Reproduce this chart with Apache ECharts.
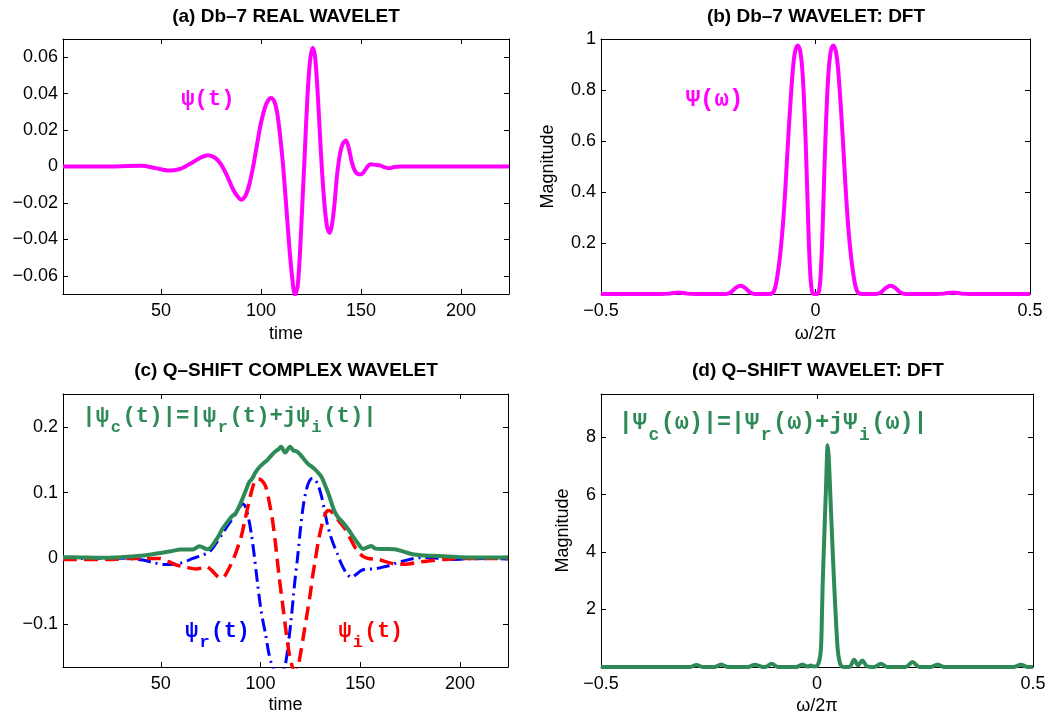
<!DOCTYPE html>
<html><head><meta charset="utf-8">
<script src="https://cdn.jsdelivr.net/npm/echarts@6/dist/echarts.min.js"></script>
<style>html,body{margin:0;padding:0;background:#fff}#c{width:1050px;height:717px}</style>
</head><body><div id="c"></div>
<script>
// ---------------- DATA ----------------
// (a) Db-7 real wavelet
const aTime = [1, 20, 40, 47, 54, 59, 63, 67, 70, 73.5, 77, 80, 83, 86, 88, 90, 92, 94, 96, 98, 100, 102, 103.5, 105, 106.5, 108, 109.5, 111, 112.5, 114, 115.5, 117, 118.3, 119.5, 120.7, 122, 123.2, 124.5, 125.8, 127, 128.2, 129.4, 130.6, 132, 133.2, 134.3, 135.5, 136.8, 138, 139.5, 141, 142.5, 144, 145.5, 147, 148.7, 150.3, 152, 153.5, 155, 157, 159.5, 162, 164, 166.5, 170, 190, 224];
const aPsi = [0, 0, 0.0004, -0.0008, -0.0022, -0.0015, 0.0005, 0.003, 0.005, 0.0062, 0.0048, 0.0012, -0.005, -0.0125, -0.016, -0.0182, -0.0165, -0.0105, -0.0005, 0.012, 0.024, 0.0325, 0.0362, 0.0376, 0.0362, 0.03, 0.0175, 0.001, -0.02, -0.042, -0.06, -0.0705, -0.066, -0.047, -0.02, 0.01, 0.038, 0.058, 0.0652, 0.0605, 0.043, 0.019, -0.004, -0.024, -0.034, -0.0365, -0.032, -0.02, -0.005, 0.007, 0.0128, 0.0143, 0.0095, 0.002, -0.0025, -0.0042, -0.0042, -0.002, 0.0003, 0.0012, 0.0009, 0.0006, -0.0005, -0.0009, -0.0003, 0, 0, 0];

// (b) Db-7 wavelet DFT magnitude
const bFreq = [-0.5, -0.36, -0.34, -0.32, -0.3, -0.28, -0.21, -0.197, -0.186, -0.175, -0.164, -0.153, -0.14, -0.11, -0.1, -0.094, -0.088, -0.082, -0.076, -0.07, -0.064, -0.058, -0.052, -0.047, -0.0415, -0.036, -0.031, -0.027, -0.023, -0.019, -0.015, -0.011, -0.007, 0, 0.007, 0.011, 0.015, 0.019, 0.023, 0.027, 0.031, 0.036, 0.0415, 0.047, 0.052, 0.058, 0.064, 0.07, 0.076, 0.082, 0.088, 0.094, 0.1, 0.11, 0.14, 0.153, 0.164, 0.175, 0.186, 0.197, 0.21, 0.28, 0.3, 0.32, 0.34, 0.36, 0.5];
const bMag = [0, 0, 0.0015, 0.006, 0.0015, 0, 0, 0.007, 0.024, 0.032, 0.024, 0.007, 0, 0, 0.004, 0.025, 0.08, 0.16, 0.27, 0.42, 0.6, 0.76, 0.895, 0.955, 0.975, 0.955, 0.885, 0.77, 0.6, 0.39, 0.18, 0.05, 0.005, 0, 0.005, 0.05, 0.18, 0.39, 0.6, 0.77, 0.885, 0.955, 0.975, 0.955, 0.895, 0.76, 0.6, 0.42, 0.27, 0.16, 0.08, 0.025, 0.004, 0, 0, 0.007, 0.024, 0.032, 0.024, 0.007, 0, 0, 0.0015, 0.006, 0.0015, 0, 0];

// (c) Q-shift complex wavelet: envelope, real part, imaginary part
const cEnvTime = [1, 10, 20, 30, 40, 48, 55, 60, 66, 69.3, 73.5, 77.7, 80.9, 83.5, 86, 87.6, 90, 92.5, 94.3, 95.7, 97.7, 99.5, 101.6, 103.5, 105.8, 107.5, 109, 110.3, 112.3, 114.8, 116.5, 118, 119.9, 122, 124, 125.5, 127.4, 129, 130.7, 132.5, 134, 135.5, 137.3, 139, 141.5, 144, 146.4, 149, 151.4, 153.5, 155.5, 157.5, 160, 164, 167.2, 172, 177, 185, 192, 200, 208, 215, 224];
const cEnvVal = [0.002, 0.0015, 0.001, 0.002, 0.004, 0.0075, 0.011, 0.0135, 0.0135, 0.0185, 0.014, 0.028, 0.045, 0.056, 0.065, 0.069, 0.084, 0.1025, 0.116, 0.121, 0.132, 0.139, 0.145, 0.15, 0.158, 0.163, 0.166, 0.17, 0.161, 0.17, 0.164, 0.163, 0.158, 0.15, 0.143, 0.14, 0.135, 0.13, 0.123, 0.11, 0.0985, 0.085, 0.07, 0.062, 0.054, 0.044, 0.033, 0.022, 0.0145, 0.017, 0.019, 0.015, 0.0145, 0.0145, 0.014, 0.01, 0.006, 0.004, 0.0035, 0.002, 0.0015, 0.0015, 0.002];
const cRealTime = [1, 20, 30, 41, 46, 51, 55, 59.3, 63, 66, 70, 74.3, 77.5, 80.9, 84, 87.6, 89.5, 91, 92.5, 94.2, 95.5, 96.7, 98.3, 100, 101.3, 102.5, 104, 105.5, 107, 109, 111, 112.5, 114, 115.5, 117, 118.5, 120, 121.5, 123, 124.5, 126, 127.5, 129, 130.5, 132, 133.5, 135, 136.5, 138.5, 140.6, 143, 145.6, 148, 150.6, 153.5, 156.4, 160, 163.8, 168, 172.1, 177, 182, 190, 197, 205, 215, 224];
const cRealVal = [0, 0, 0.0005, -0.0025, -0.006, -0.009, -0.009, -0.0076, -0.004, 0, 0.004, 0.01, 0.022, 0.038, 0.052, 0.068, 0.078, 0.083, 0.078, 0.058, 0.035, 0.008, -0.033, -0.074, -0.097, -0.115, -0.142, -0.16, -0.171, -0.178, -0.172, -0.16, -0.128, -0.088, -0.04, 0.0, 0.045, 0.082, 0.105, 0.118, 0.122, 0.119, 0.11, 0.095, 0.074, 0.052, 0.035, 0.022, 0.007, -0.009, -0.022, -0.029, -0.024, -0.018, -0.016, -0.016, -0.014, -0.0115, -0.007, -0.0035, 0, 0.0015, 0, -0.0015, -0.0005, 0, -0.001];
const cImagTime = [1, 24, 35, 49.4, 54, 57.8, 62, 67.8, 70.5, 72.8, 75.5, 78, 80.3, 82, 84, 86.1, 88, 90.3, 92, 93.6, 95.3, 97, 98.8, 100.5, 102.5, 104.4, 106, 107.5, 109.2, 111, 112.5, 114, 115.5, 117, 118.5, 120, 121.5, 123, 124.9, 126.2, 127.4, 129, 130.5, 132, 133.7, 135.2, 137, 139.5, 142.3, 145, 148.2, 151, 154, 159, 164, 169, 175, 180.6, 186, 192, 200, 224];
const cImagVal = [-0.0015, -0.0015, 0, 0, -0.005, -0.01, -0.013, -0.016, -0.0145, -0.0126, -0.018, -0.026, -0.03, -0.027, -0.016, -0.003, 0.012, 0.033, 0.056, 0.078, 0.1, 0.116, 0.121, 0.119, 0.11, 0.085, 0.058, 0.022, -0.025, -0.068, -0.105, -0.138, -0.16, -0.172, -0.168, -0.145, -0.118, -0.09, -0.054, -0.025, -0.003, 0.027, 0.048, 0.064, 0.073, 0.072, 0.066, 0.056, 0.045, 0.03, 0.0126, 0.004, 0, -0.0015, -0.006, -0.009, -0.008, -0.005, -0.003, -0.0015, 0, 0];

// (d) Q-shift wavelet DFT magnitude
const dFreq = [-0.5, -0.295, -0.279, -0.263, -0.238, -0.222, -0.206, -0.16, -0.144, -0.128, -0.12, -0.105, -0.09, -0.048, -0.034, -0.022, -0.014, -0.007, 0, 0.005, 0.009, 0.011, 0.013, 0.017, 0.021, 0.0247, 0.027, 0.03, 0.035, 0.04, 0.044, 0.048, 0.052, 0.056, 0.062, 0.075, 0.086, 0.095, 0.105, 0.116, 0.132, 0.148, 0.163, 0.205, 0.221, 0.237, 0.263, 0.279, 0.295, 0.455, 0.472, 0.488, 0.5];
const dMag = [0, 0, 0.07, 0, 0, 0.09, 0, 0, 0.08, 0.01, 0, 0.11, 0, 0, 0.09, 0.02, 0.05, 0.02, 0.04, 0.2, 0.6, 1.5, 2.8, 4.6, 6.3, 7.72, 7.35, 6.3, 4.5, 2.8, 1.6, 0.6, 0.2, 0.04, 0, 0, 0.25, 0.06, 0.23, 0.02, 0, 0.11, 0, 0, 0.17, 0, 0, 0.09, 0, 0, 0.08, 0, 0];

// Tick values
const timeTicks = [50, 100, 150, 200];
const freqTicks = [-0.5, 0, 0.5];
const aYTicks = [-0.06, -0.04, -0.02, 0, 0.02, 0.04, 0.06];
const bYTicks = [0.2, 0.4, 0.6, 0.8, 1];
const cYTicks = [-0.1, 0, 0.1, 0.2];
const dYTicks = [2, 4, 6, 8];

// Texts
const titles = ['(a) Db\u20137 REAL WAVELET', '(b) Db\u20137 WAVELET: DFT', '(c) Q\u2013SHIFT COMPLEX WAVELET', '(d) Q\u2013SHIFT WAVELET: DFT'];
const xNames = ['time', '\u03c9/2\u03c0', 'time', '\u03c9/2\u03c0'];
const yName = 'Magnitude';

// ---------------- CHART ----------------
const SANS = '"Liberation Sans", Arial, Helvetica, sans-serif';
const MONO = '"Liberation Mono", "DejaVu Sans Mono", monospace';
const MAGENTA = '#ff00ff', GREEN = '#2e8b57', BLUE = '#0000ff', RED = '#ff0000';

function fmt(v) { return String(v).replace('-', '\u2212'); }
function pairs(xs, ys) { return xs.map((x, i) => [x, ys[i]]); }

const grids = [
  { left: 63, top: 39, width: 446, height: 255 },
  { left: 601, top: 39, width: 429, height: 255 },
  { left: 63, top: 394, width: 445, height: 273 },
  { left: 601, top: 394, width: 432, height: 273 }
].map(g => Object.assign(g, { containLabel: false, outerBoundsMode: 'none', show: false }));

const xAxes = [], yAxes = [];
function line() { return { show: true, onZero: false, lineStyle: { color: '#000', width: 1 } }; }
function tick(vals) { return { show: true, inside: true, length: 5, customValues: vals, lineStyle: { color: '#000', width: 1 } }; }
function addAxes(gi, xr, xt, yr, yt, xName, yNm, yGap, xGap) {
  const lab = (vals) => ({ show: true, customValues: vals, formatter: fmt, color: '#000', fontSize: 18, fontFamily: SANS });
  xAxes.push({ gridIndex: gi, type: 'value', position: 'bottom', min: xr[0], max: xr[1], axisLine: line(), axisTick: tick(xt),
    axisLabel: Object.assign(lab(xt), { margin: 8 }), splitLine: { show: false },
    name: xName, nameLocation: 'middle', nameGap: xGap, nameMoveOverlap: false,
    nameTextStyle: { color: '#000', fontSize: 18, fontFamily: SANS } });
  xAxes.push({ gridIndex: gi, type: 'value', position: 'top', min: xr[0], max: xr[1], axisLine: line(), axisTick: tick(xt),
    axisLabel: { show: false }, splitLine: { show: false } });
  const yl = { gridIndex: gi, type: 'value', position: 'left', min: yr[0], max: yr[1], axisLine: line(), axisTick: tick(yt),
    axisLabel: Object.assign(lab(yt), { margin: 5 }), splitLine: { show: false } };
  if (yNm) Object.assign(yl, { name: yNm, nameLocation: 'middle', nameGap: yGap, nameMoveOverlap: false,
    nameTextStyle: { color: '#000', fontSize: 18, fontFamily: SANS } });
  yAxes.push(yl);
  yAxes.push({ gridIndex: gi, type: 'value', position: 'right', min: yr[0], max: yr[1], axisLine: line(), axisTick: tick(yt),
    axisLabel: { show: false }, splitLine: { show: false } });
}
addAxes(0, [1, 224], timeTicks, [-0.07, 0.07], aYTicks, xNames[0], null, 0, 31);
addAxes(1, [-0.5, 0.5], freqTicks, [0, 1], bYTicks, xNames[1], yName, 44, 31);
addAxes(2, [1, 224], timeTicks, [-0.165, 0.25], cYTicks, xNames[2], null, 0, 29);
addAxes(3, [-0.5, 0.5], freqTicks, [0, 9.5], dYTicks, xNames[3], yName, 29, 30);

function ser(gi, data, color, width, type, z) {
  return { type: 'line', xAxisIndex: gi * 2, yAxisIndex: gi * 2, data: data, symbol: 'none', showSymbol: false,
    smooth: 0.3, clip: true, z: z || 2, silent: true,
    lineStyle: { color: color, width: width, type: type || 'solid', cap: 'butt', join: 'round' } };
}
const series = [
  ser(0, pairs(aTime, aPsi), MAGENTA, 4),
  ser(1, pairs(bFreq, bMag), MAGENTA, 4),
  ser(2, pairs(cRealTime, cRealVal), BLUE, 3, [13, 5, 2, 5], 2),
  ser(2, pairs(cImagTime, cImagVal), RED, 3.5, [14, 7], 3),
  ser(2, pairs(cEnvTime, cEnvVal), GREEN, 4, 'solid', 4),
  ser(3, pairs(dFreq, dMag), GREEN, 4)
];

// ---- text graphics (titles, annotations) ----
const graphic = [];
function txt(x, y, s, font, color, align) {
  graphic.push({ type: 'text', x: x, y: y, silent: true, z: 100,
    style: { text: s, font: font, fill: color, align: align, verticalAlign: 'middle', textAlign: align, textVerticalAlign: 'middle' } });
}
const titlePos = [[286, 17], [816, 17], [286, 371], [818, 371]];
titles.forEach((t, i) => txt(titlePos[i][0], titlePos[i][1], t, 'bold 19px ' + SANS, '#000', 'center'));

// monospace annotation with subscripts placed in character slots
function mono(left, y, size, main, subs, subDy, subSize, color) {
  txt(left, y, main, 'bold ' + size + 'px ' + MONO, color, 'left');
  const adv = size * 0.6;
  subs.forEach(([slot, ch]) => txt(left + (slot + 0.5) * adv, y + subDy, ch, 'bold ' + subSize + 'px ' + MONO, color, 'center'));
}
mono(181.3, 99, 22.2, '\u03c8(t)', [], 0, 0, MAGENTA);
mono(685.7, 100, 24, '\u03a8(\u03c9)', [], 0, 0, MAGENTA);
mono(82.3, 416.7, 22.3, '|\u03c8 (t)|=|\u03c8 (t)+j\u03c8 (t)|', [[2, 'c'], [10, 'r'], [17, 'i']], 11, 17, GREEN);
mono(618.7, 423.3, 23.4, '|\u03a8 (\u03c9)|=|\u03a8 (\u03c9)+j\u03a8 (\u03c9)|', [[2, 'c'], [10, 'r'], [17, 'i']], 12, 18, GREEN);
mono(185.2, 631.7, 21.5, '\u03c8 (t)', [[1, 'r']], 11, 17, BLUE);
mono(338.5, 631.7, 21.5, '\u03c8 (t)', [[1, 'i']], 11, 17, RED);

const chart = echarts.init(document.getElementById('c'), null, { renderer: 'canvas' });
chart.setOption({
  backgroundColor: '#fff',
  animation: false,
  textStyle: { fontFamily: SANS },
  grid: grids,
  xAxis: xAxes,
  yAxis: yAxes,
  series: series,
  graphic: graphic
});
</script></body></html>
